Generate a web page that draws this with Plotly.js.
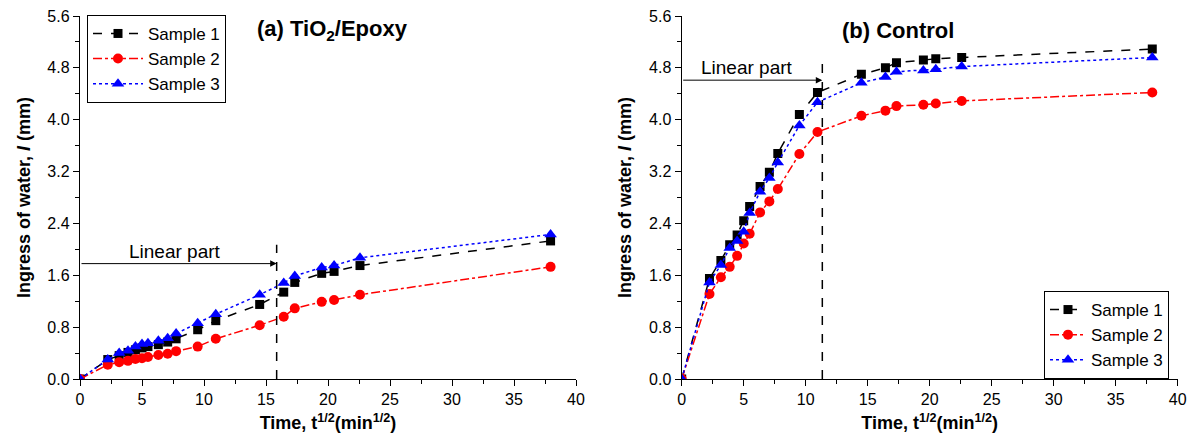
<!DOCTYPE html>
<html><head><meta charset="utf-8">
<script src="https://cdn.plot.ly/plotly-3.0.1.min.js"></script>
<style>body{margin:0;background:#fff}#c{width:1197px;height:444px}</style>
</head><body><div id="c"></div>
<script>
// sqrt(time) values, min^1/2
const sqrtT = [0, 2.24, 3.16, 3.87, 4.47, 5.0, 5.48, 6.32, 7.07, 7.75, 9.49, 10.95, 14.49, 16.43, 17.32, 19.49, 20.49, 22.58, 37.95];
// (a) TiO2/Epoxy
const a_s1 = [0, 0.30, 0.36, 0.41, 0.45, 0.48, 0.50, 0.53, 0.57, 0.62, 0.76, 0.90, 1.15, 1.34, 1.49, 1.63, 1.66, 1.75, 2.13];
const a_s2 = [0, 0.22, 0.26, 0.28, 0.31, 0.32, 0.34, 0.37, 0.39, 0.43, 0.50, 0.62, 0.83, 0.96, 1.09, 1.19, 1.22, 1.30, 1.73];
const a_s3 = [0, 0.30, 0.40, 0.435, 0.50, 0.54, 0.55, 0.59, 0.63, 0.70, 0.86, 1.00, 1.30, 1.48, 1.59, 1.72, 1.75, 1.87, 2.23];
// (b) Control
const b_s1 = [0, 1.55, 1.83, 2.07, 2.22, 2.44, 2.66, 2.97, 3.19, 3.48, 4.08, 4.42, 4.70, 4.80, 4.88, 4.92, 4.94, 4.96, 5.09];
const b_s2 = [0, 1.31, 1.57, 1.73, 1.90, 2.09, 2.24, 2.57, 2.74, 2.93, 3.47, 3.81, 4.06, 4.14, 4.21, 4.23, 4.25, 4.29, 4.42];
const b_s3 = [0, 1.49, 1.76, 2.02, 2.13, 2.27, 2.56, 2.89, 3.10, 3.34, 3.91, 4.27, 4.57, 4.66, 4.74, 4.76, 4.78, 4.82, 4.96];
const seriesNames = ['Sample 1', 'Sample 2', 'Sample 3'];
// Linear part markers: end x, dashed-line top y, arrow y, label position
const linA = {x: 15.86, top: 2.07, arrowY: 1.78, labelX: 7.66, labelY: 1.96};
const linB = {x: 11.34, top: 4.87, arrowY: 4.61, labelX: 5.24, labelY: 4.81};

const FONT = 'Arial, Liberation Sans, sans-serif';
const styles = [
  {color: '#000000', dash: 'dash', symbol: 'square', size: 9},
  {color: '#ff0000', dash: 'dashdot', symbol: 'circle', size: 10},
  {color: '#0000ff', dash: 'dot', symbol: 'triangle-up', size: 11}
];
function mk(ys, i, xa, ya, leg) {
  const s = styles[i];
  return {x: sqrtT, y: ys, type: 'scatter', mode: 'lines+markers', name: seriesNames[i],
    xaxis: xa, yaxis: ya, legend: leg,
    line: {color: s.color, dash: s.dash, width: 1.5},
    marker: {color: s.color, symbol: s.symbol, size: s.size}};
}
const traces = [
  mk(a_s1, 0, 'x', 'y', 'legend'), mk(a_s2, 1, 'x', 'y', 'legend'), mk(a_s3, 2, 'x', 'y', 'legend'),
  mk(b_s1, 0, 'x2', 'y2', 'legend2'), mk(b_s2, 1, 'x2', 'y2', 'legend2'), mk(b_s3, 2, 'x2', 'y2', 'legend2')
];
function xax(dom, anchor) {
  return {domain: dom, anchor: anchor, range: [0, 40], dtick: 5, tick0: 0, showgrid: false, zeroline: false,
    showline: true, linecolor: '#000', linewidth: 1.2, ticks: 'outside', ticklen: 6, tickcolor: '#000',
    minor: {ticks: 'outside', dtick: 2.5, ticklen: 3.5, tickcolor: '#000', showgrid: false},
    tickfont: {family: FONT, size: 16, color: '#000'},
    title: {text: '<b>Time, t<sup>1/2</sup>(min<sup>1/2</sup>)</b>', font: {family: FONT, size: 18, color: '#000'}, standoff: 9}};
}
function yax(anchor) {
  return {domain: [0, 1], anchor: anchor, range: [0, 5.6], dtick: 0.8, tick0: 0, tickformat: '.1f', showgrid: false, zeroline: false,
    showline: true, linecolor: '#000', linewidth: 1.2, ticks: 'outside', ticklen: 6, tickcolor: '#000',
    minor: {ticks: 'outside', dtick: 0.4, ticklen: 3.5, tickcolor: '#000', showgrid: false},
    tickfont: {family: FONT, size: 16, color: '#000'},
    title: {text: '<b>Ingress of water, <i>I</i> (mm)</b>', font: {family: FONT, size: 18, color: '#000'}, standoff: 12}};
}
const legStyle = {font: {family: FONT, size: 17, color: '#000'}, bgcolor: '#fff', bordercolor: '#000', borderwidth: 1,
  tracegroupgap: 0, xanchor: 'left', yanchor: 'top'};
const layout = {
  width: 1197, height: 444, paper_bgcolor: '#fff', plot_bgcolor: 'rgba(0,0,0,0)',
  margin: {l: 0, r: 0, t: 16, b: 65},
  font: {family: FONT, color: '#000'},
  xaxis: xax([80/1197, 576/1197], 'y'),
  yaxis: yax('x'),
  xaxis2: xax([681.7/1197, 1177.7/1197], 'y2'),
  yaxis2: yax('x2'),
  legend: Object.assign({x: 87/1197, y: 1.003, itemwidth: 50}, legStyle),
  legend2: Object.assign({x: 1044/1197, y: (379-291)/363, itemwidth: 36}, legStyle),
  shapes: [
    {type: 'line', xref: 'x', yref: 'y', x0: linA.x, x1: linA.x, y0: 0, y1: linA.top, line: {color: '#000', dash: 'dash', width: 1.5}},
    {type: 'line', xref: 'x2', yref: 'y2', x0: linB.x, x1: linB.x, y0: 0, y1: linB.top, line: {color: '#000', dash: 'dash', width: 1.5}}
  ],
  annotations: [
    {xref: 'x', yref: 'y', axref: 'x', ayref: 'y', x: linA.x, y: linA.arrowY, ax: 0, ay: linA.arrowY, text: '',
      showarrow: true, arrowhead: 2, arrowsize: 1.3, arrowwidth: 1, arrowcolor: '#000'},
    {xref: 'x2', yref: 'y2', axref: 'x2', ayref: 'y2', x: linB.x, y: linB.arrowY, ax: 0, ay: linB.arrowY, text: '',
      showarrow: true, arrowhead: 2, arrowsize: 1.3, arrowwidth: 1, arrowcolor: '#000'},
    {xref: 'x', yref: 'y', x: linA.labelX, y: linA.labelY, text: 'Linear part', showarrow: false,
      font: {family: FONT, size: 19, color: '#000'}},
    {xref: 'x2', yref: 'y2', x: linB.labelX, y: linB.labelY, text: 'Linear part', showarrow: false,
      font: {family: FONT, size: 19, color: '#000'}},
    {xref: 'paper', yref: 'paper', x: 332/1197, y: (379-30)/363, xanchor: 'center', yanchor: 'middle',
      text: '<b>(a) TiO<sub>2</sub>/Epoxy</b>', showarrow: false, font: {family: FONT, size: 22, color: '#000'}},
    {xref: 'paper', yref: 'paper', x: 898/1197, y: (379-31)/363, xanchor: 'center', yanchor: 'middle',
      text: '<b>(b) Control</b>', showarrow: false, font: {family: FONT, size: 22, color: '#000'}}
  ]
};
Plotly.newPlot('c', traces, layout, {staticPlot: true, displayModeBar: false});
</script></body></html>
